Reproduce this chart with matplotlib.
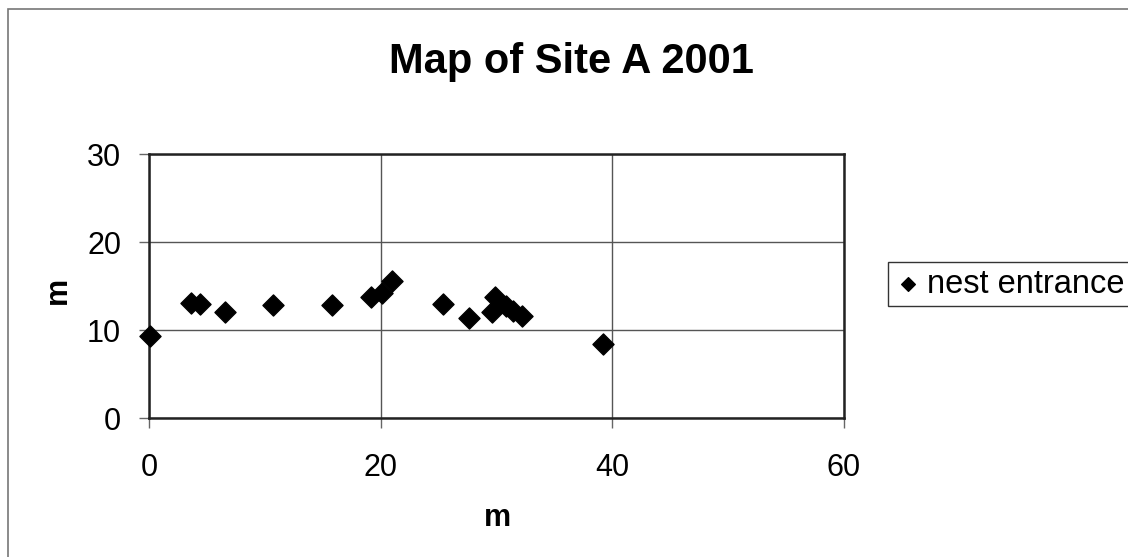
import matplotlib.pyplot as plt
from matplotlib.patches import Rectangle

plt.rcParams['font.family'] = ['Liberation Sans', 'DejaVu Sans']

# nest entrance coordinates (m)
x_m = [0.1, 3.6, 4.4, 6.6, 10.7, 15.8, 19.2, 20.1, 21.0, 25.4, 27.6,
       29.6, 29.9, 30.8, 31.4, 32.2, 39.2]
y_m = [9.3, 13.1, 13.0, 12.1, 12.8, 12.8, 13.8, 14.2, 15.6, 13.0, 11.4,
       12.1, 13.7, 12.7, 12.2, 11.6, 8.4]

x_ticks = [0, 20, 40, 60]
y_ticks = [0, 10, 20, 30]

fig = plt.figure(figsize=(11.28, 5.57), dpi=100)
ax = fig.add_axes([149 / 1128, 139 / 557, 695 / 1128, 264 / 557])

ax.scatter(x_m, y_m, marker='D', s=115, color='black', zorder=3,
           label='nest entrance', clip_on=False)

ax.set_xlim(0, 60)
ax.set_ylim(0, 30)
ax.set_xticks(x_ticks)
ax.set_yticks(y_ticks)
ax.grid(True, color='#555555', linewidth=1.0)
ax.set_axisbelow(True)
for s in ax.spines.values():
    s.set_linewidth(1.8)
    s.set_color('#222222')
ax.tick_params(direction='out', length=7, width=1, color='#666666',
               labelsize=22)
ax.tick_params(axis='x', pad=18)
ax.tick_params(axis='y', pad=13)

fig.text(0.507, 1 - 62 / 557, 'Map of Site A 2001', fontsize=30,
         fontweight='bold', ha='center', va='center')
ax.set_xlabel('m', fontsize=22, fontweight='bold', va='center')
ax.xaxis.set_label_coords((497 - 149) / 695, (418 - 518) / 264)
ax.set_ylabel('m', fontsize=22, fontweight='bold', va='center')
ax.yaxis.set_label_coords((58 - 149) / 695, (418 - 290) / 264)

leg = fig.legend(loc='upper left', bbox_to_anchor=(888 / 1128, 1 - 262 / 557),
                 fontsize=23.5, frameon=True, fancybox=False, edgecolor='black',
                 handletextpad=0.2, borderpad=0.2, borderaxespad=0,
                 markerscale=0.65, handlelength=0.8)
leg.get_frame().set_linewidth(1.0)

fig.patches.append(Rectangle((8 / 1128, -0.01), 1.2, 1 - 9 / 557 + 0.01,
                             transform=fig.transFigure, fill=False,
                             edgecolor='#777777', linewidth=1.2))

fig.savefig('out.png', dpi=100)
